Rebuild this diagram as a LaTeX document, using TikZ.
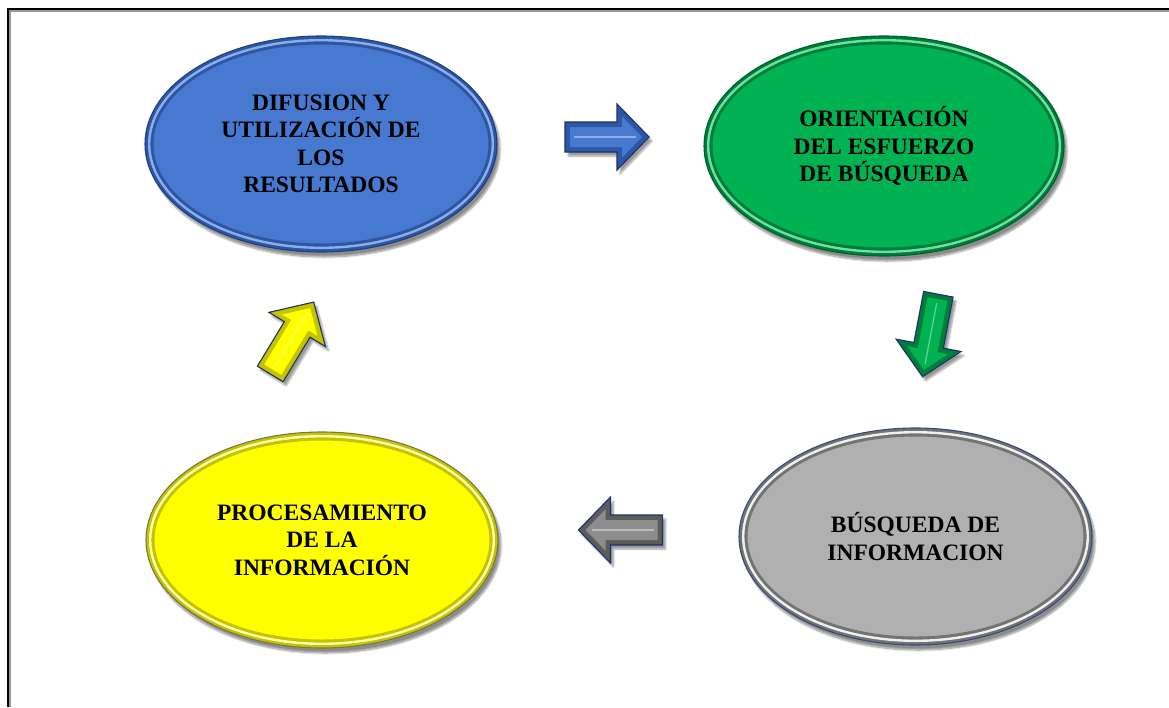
\documentclass[tikz,border=0pt]{standalone}
\usepackage{fontspec}
\setmainfont{Liberation Serif}
\usetikzlibrary{shapes.geometric,shadows.blur}

\definecolor{bluemain}{RGB}{72,121,208}
\definecolor{bluedark}{RGB}{45,86,165}
\definecolor{bluelight}{RGB}{140,175,232}
\definecolor{blueline}{RGB}{35,62,125}
\definecolor{greenmain}{RGB}{0,178,82}
\definecolor{greendark}{RGB}{0,125,58}
\definecolor{greenlight}{RGB}{110,225,160}
\definecolor{greenline}{RGB}{0,95,45}
\definecolor{graymain}{RGB}{176,176,176}
\definecolor{graydark}{RGB}{115,115,115}
\definecolor{graylight}{RGB}{240,240,240}
\definecolor{grayline}{RGB}{55,75,125}
\definecolor{yellowmain}{RGB}{255,255,0}
\definecolor{yellowdark}{RGB}{195,195,0}
\definecolor{yellowlight}{RGB}{255,255,175}
\definecolor{yellowline}{RGB}{120,120,70}
\definecolor{arrowline}{RGB}{30,50,105}

\tikzset{
  ellnode/.style={ellipse, inner sep=0pt, align=center,
    font=\fontsize{23.5}{27.5}\selectfont\bfseries, text=black},
  ellshadow/.style={blur shadow={shadow xshift=3pt,shadow yshift=-5pt,
    shadow blur steps=10,shadow opacity=45}},
  arrshadow/.style={blur shadow={shadow xshift=0pt,shadow yshift=0pt,
    shadow blur steps=6,shadow opacity=40}},
}

\def\arrowouter{(-42,-15) -- (10,-15) -- (10,-33) -- (42,0) -- (10,33) -- (10,15) -- (-42,15) -- cycle}
\def\arrowinner{(-37,-10) -- (15,-10) -- (15,-20.6) -- (35,0) -- (15,20.6) -- (15,10) -- (-37,10) -- cycle}

% #1 name, #2 x, #3 y, #4 angle, #5 face colour, #6 bevel colour
\newcommand\blockarrow[6]{%
  \begin{scope}[shift={(#2+3,#3+4)},rotate=#4]
    \path[arrshadow] \arrowouter;
  \end{scope}
  \begin{scope}[shift={(#2,#3)},rotate=#4]
    \filldraw[fill=#6, draw=arrowline, line width=1.1pt, line join=miter] \arrowouter;
    \fill[#5] \arrowinner;
    \draw[white, opacity=.4, line width=1.2pt] (-33,0) -- (29,0);
    \coordinate (#1) at (0,0);
  \end{scope}}

% #1 x, #2 y, #3 rx, #4 ry, #5 dark, #6 light, #7 outline
\newcommand\ellrim[7]{%
  \path[ellshadow, fill=#5, draw=#7, line width=1.1pt] (#1,#2) ellipse [x radius=#3pt, y radius=#4pt];
  \draw[#6, line width=2.4pt] (#1,#2) ellipse [x radius=#3pt-4.2pt, y radius=#4pt-4.2pt];
}

\begin{document}
\begin{tikzpicture}[x=1pt,y=-1pt]
\useasboundingbox (0,0) rectangle (1169,707);

% frame
\draw[black!40, line width=1.2pt] (9.9,707) -- (9.9,10.9) -- (1169,10.9);
\draw[black, line width=2.4pt] (7.8,707) -- (7.8,9) -- (1169,9);

% blue ellipse
\ellrim{321}{144}{176}{108}{bluedark}{bluelight}{blueline}
\node[ellnode, fill=bluemain, draw=bluedark, line width=1pt, minimum width=336pt, minimum height=200pt]
  (difusion) at (321,144) {DIFUSION Y\\UTILIZACIÓN DE\\LOS\\RESULTADOS};

% green ellipse
\ellrim{884}{146}{180}{110}{greendark}{greenlight}{greenline}
\node[ellnode, fill=greenmain, draw=greendark, line width=1pt, minimum width=344pt, minimum height=204pt]
  (orientacion) at (884,146) {ORIENTACIÓN\\DEL ESFUERZO\\DE BÚSQUEDA};

% gray ellipse
\ellrim{915.5}{536.5}{176.5}{108.5}{graydark}{graylight}{grayline}
\node[ellnode, fill=graymain, draw=graydark, line width=1pt, minimum width=337pt, minimum height=201pt]
  (busqueda) at (915.5,536.5) {BÚSQUEDA DE\\INFORMACION};

% yellow ellipse
\ellrim{322}{540}{176}{108}{yellowdark}{yellowlight}{yellowline}
\node[ellnode, fill=yellowmain, draw=yellowdark, line width=1pt, minimum width=336pt, minimum height=200pt]
  (procesamiento) at (322,540) {PROCESAMIENTO\\DE LA\\INFORMACIÓN};

% block arrows
\blockarrow{arrowA}{607}{137}{0}{bluemain}{bluedark}
\blockarrow{arrowB}{930.5}{335.5}{259.2}{greenmain}{greendark}
\blockarrow{arrowC}{620.5}{530}{180}{graymain!80!black}{graydark!80!black}
\blockarrow{arrowD}{292}{338}{58.8}{yellowmain}{yellowdark}

\end{tikzpicture}
\end{document}
